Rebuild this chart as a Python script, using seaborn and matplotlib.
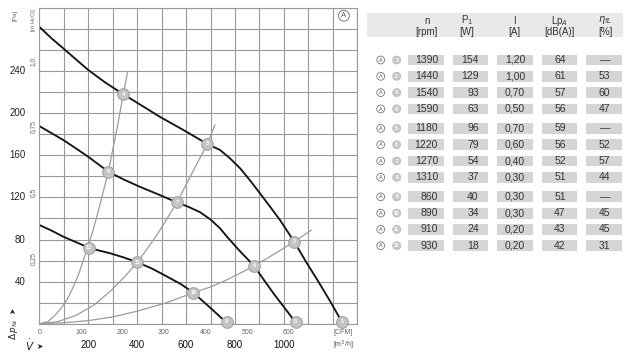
import numpy as np
import pandas as pd
import matplotlib
matplotlib.use("Agg")
import matplotlib.pyplot as plt
import seaborn as sns
from matplotlib.patches import Rectangle, Circle

# ---------------- data ----------------
# fan characteristic curves: volume flow [m3/h] vs static pressure [Pa]
curve1_q = [0, 50, 98, 150, 200, 270, 343, 420, 493, 589, 687, 739, 780, 821, 862, 902,
            944, 984, 1042, 1090, 1141, 1190, 1239]
curve1_pa = [282, 271, 261.5, 251, 241, 229, 218, 207, 196.5, 184, 170.7, 165, 157, 147.6,
             136, 123.9, 111, 98.5, 78, 59, 40, 21, 1]
curve2_q = [0, 50, 98, 150, 200, 282, 345, 412, 490, 562, 610, 657, 700, 739, 766, 820,
            878, 917, 957, 1003, 1049]
curve2_pa = [187.7, 181, 174.5, 166.5, 158.6, 144.4, 137, 130, 122.5, 115.3, 111, 106,
             99, 90.6, 83, 69, 55, 42, 29, 15, 1]
curve3_q = [0, 50, 98, 150, 203, 245, 289, 345, 401, 460, 521, 580, 630, 700, 766]
curve3_pa = [93.8, 88.5, 82.7, 77.5, 72.2, 69.5, 67, 63, 58.4, 52.5, 45, 37.5, 29.5,
             15, 1]

# system (resistance) curves, grey
sys_a_q = [0, 35, 68, 100, 123, 150, 164, 198, 220, 240, 260, 282, 300, 320, 343, 361]
sys_a_pa = [0, 2, 9, 18, 27, 41, 49, 73, 89, 106, 124, 144, 165, 188, 218, 239]
sys_b_q = [0, 75, 150, 225, 300, 350, 401, 440, 480, 520, 562, 600, 640, 687, 718]
sys_b_pa = [0, 2, 8, 18, 33, 45, 58.4, 71, 84, 99, 115.3, 132, 150, 170.7, 189]
sys_c_q = [0, 100, 200, 300, 400, 520, 630, 700, 760, 820, 878, 930, 980, 1042, 1113]
sys_c_pa = [0, 1, 3, 6.5, 12, 20, 29.5, 35, 41, 48, 55, 62, 69, 78, 89]

# operating points 1..12
op_num = list(range(1, 13))
op_q = [1239, 1042, 687, 343, 1049, 878, 562, 282, 766, 630, 401, 203]
op_pa = [2, 78, 170.7, 218, 2, 55, 115.3, 144.4, 2, 29.5, 58.4, 72.2]

# axis tick labels
pa_labels = [40, 80, 120, 160, 200, 240]
inh2o_labels = ["0,25", "0,5", "0,75", "1,0"]
inh2o_values = [0.25, 0.5, 0.75, 1.0]
m3h_labels = [200, 400, 600, 800, 1000]
cfm_labels = [0, 100, 200, 300, 400, 500, 600]

# table
tab_rpm = [1390, 1440, 1540, 1590, 1180, 1220, 1270, 1310, 860, 890, 910, 930]
tab_p1 = [154, 129, 93, 63, 96, 79, 54, 37, 40, 34, 24, 18]
tab_i = ["1,20", "1,00", "0,70", "0,50", "0,70", "0,60", "0,40", "0,30",
         "0,30", "0,30", "0,20", "0,20"]
tab_lpa = [64, 61, 57, 56, 59, 56, 52, 51, 51, 47, 43, 42]
tab_eta = [None, 53, 60, 47, None, 52, 57, 44, None, 45, 45, 31]

# ---------------- figure ----------------
sns.set_theme(style="white")
plt.rcParams["font.family"] = ["Liberation Sans Narrow", "Liberation Sans", "DejaVu Sans"]

W, H = 630, 358
fig = plt.figure(figsize=(W / 100, H / 100), dpi=100)
fig.patch.set_facecolor("white")

px_left, px_right, px_top, px_bot = 39.3, 357.3, 7.8, 323.8
ax = fig.add_axes([px_left / W, 1 - px_bot / H,
                   (px_right - px_left) / W, (px_bot - px_top) / H])
ax.set_facecolor("white")

grid_c = "#999999"
ax.set_xlim(0, 1300)
ax.set_ylim(0, 300)
ax.set_xticks(np.arange(0, 1301, 100))
ax.set_yticks(np.arange(0, 301, 20))
ax.grid(True, color=grid_c, lw=0.8)
ax.set_axisbelow(True)
ax.tick_params(length=0, labelbottom=False, labelleft=False)
for s in ax.spines.values():
    s.set_color(grid_c)
    s.set_linewidth(0.8)

# system curves
sys_df = pd.concat([
    pd.DataFrame({"q": sys_a_q, "pa": sys_a_pa, "c": "a"}),
    pd.DataFrame({"q": sys_b_q, "pa": sys_b_pa, "c": "b"}),
    pd.DataFrame({"q": sys_c_q, "pa": sys_c_pa, "c": "c"}),
])
sns.lineplot(data=sys_df, x="q", y="pa", units="c", estimator=None, sort=False,
             color="#9c9c9c", lw=0.9, ax=ax, legend=False)

# fan curves
fan_df = pd.concat([
    pd.DataFrame({"q": curve1_q, "pa": curve1_pa, "c": "1"}),
    pd.DataFrame({"q": curve2_q, "pa": curve2_pa, "c": "2"}),
    pd.DataFrame({"q": curve3_q, "pa": curve3_pa, "c": "3"}),
])
sns.lineplot(data=fan_df, x="q", y="pa", units="c", estimator=None, sort=False,
             color="#151515", lw=1.35, ax=ax, legend=False)

# operating points
sns.scatterplot(x=op_q, y=op_pa, s=70, color="#c4c4c4", edgecolor="#a3a3a3",
                linewidth=0.8, ax=ax, zorder=5, clip_on=False, legend=False)
for n, q, p in zip(op_num, op_q, op_pa):
    ax.text(q, p, str(n), ha="center", va="center", fontsize=4, color="white",
            fontweight="bold", zorder=6, clip_on=False)
ax.set_xlabel("")
ax.set_ylabel("")

# circled A inside plot
ax.text(0.958, 0.975, "A", transform=ax.transAxes, ha="center", va="center",
        fontsize=5.5, color="#555555",
        bbox=dict(boxstyle="circle,pad=0.25", fc="white", ec="#777777", lw=0.7))

# ---------------- axis labels ----------------
ytr = ax.get_yaxis_transform()
xtr = ax.get_xaxis_transform()
axw = px_right - px_left
axh = px_bot - px_top
for v in pa_labels:
    ax.text(-(px_left - 25.5) / axw, v, str(v), transform=ytr, ha="right",
            va="center", fontsize=7, color="#222222", clip_on=False)
for lab, v in zip(inh2o_labels, inh2o_values):
    ax.text(-(px_left - 33) / axw, v * 249.09, lab, transform=ytr, ha="center",
            va="center", fontsize=4.8, color="#666666", rotation=90, clip_on=False)
ax.text(-(px_left - 33) / axw, 288, "[in H$_2$O]", transform=ytr, ha="center",
        va="center", fontsize=4.5, color="#666666", rotation=90, clip_on=False)
ax.text(-(px_left - 15) / axw, 293, "[Pa]", transform=ytr, ha="center",
        va="center", fontsize=4.5, color="#666666", rotation=90, clip_on=False)

cfm_y = -(332 - px_bot) / axh
for v in cfm_labels:
    ax.text(v * 1.699, cfm_y, str(v), transform=xtr, ha="center", va="center",
            fontsize=5, color="#666666", clip_on=False)
ax.text(1241, cfm_y, "[CFM]", transform=xtr, ha="center", va="center",
        fontsize=5, color="#666666", clip_on=False)

m3_y = -(345 - px_bot) / axh
for v in m3h_labels:
    ax.text(v, m3_y, str(v), transform=xtr, ha="center", va="center",
            fontsize=7, color="#111111", clip_on=False)
ax.text(1241, m3_y, "[m$^3$/h]", transform=xtr, ha="center", va="center",
        fontsize=5, color="#555555", clip_on=False)

# overlay (pixel coordinates) for outer decorations and table
ov = fig.add_axes([0, 0, 1, 1])
ov.set_xlim(0, W)
ov.set_ylim(H, 0)
ov.axis("off")
ov.patch.set_alpha(0)

ov.text(29.5, 345.5, r"$\dot{V}$", ha="center", va="center", fontsize=7.5, color="#222222")
ov.text(39, 346, "➤", ha="center", va="center", fontsize=5.5, color="#222222",
        family="DejaVu Sans")
ov.text(13, 329, r"$\Delta\,p_{fa}$", ha="center", va="center", fontsize=6.5,
        color="#222222", rotation=90)
ov.text(13, 311, "➤", ha="center", va="center", fontsize=5.5, color="#222222",
        rotation=90, family="DejaVu Sans")

# ---------------- table ----------------
ov.add_patch(Rectangle((367, 13), 256, 24, fc="#e9e9e9", ec="none"))
hdr_x = [426.7, 466.7, 514.3, 559.3, 605]
hdr1 = ["n", "P$_1$", "I", "Lp$_A$", r"$\eta_{fL}$"]
hdr2 = ["[rpm]", "[W]", "[A]", "[dB(A)]", "[%]"]
for x, a, b in zip(hdr_x, hdr1, hdr2):
    ov.text(x, 20.5, a, ha="center", va="center", fontsize=7, color="#333333")
    ov.text(x, 32, b, ha="center", va="center", fontsize=7, color="#333333")

boxes = [(407.7, 444.3), (452.7, 488.3), (496.7, 532.7), (541.7, 577.3), (586, 622.3)]
row_y = []
y = 60.0
for k in range(12):
    if k in (4, 8):
        y += 3.2
    row_y.append(y)
    y += 16.3

for k, yy in enumerate(row_y):
    for (x0, x1) in boxes:
        ov.add_patch(Rectangle((x0, yy - 5.4), x1 - x0, 10.8, fc="#d5d5d5", ec="none"))
    ov.text(438, yy, str(tab_rpm[k]), ha="right", va="center", fontsize=7.5, color="#333333")
    ov.text(478.7, yy, str(tab_p1[k]), ha="right", va="center", fontsize=7.5, color="#333333")
    ov.text(515, yy, tab_i[k], ha="center", va="center", fontsize=7.5, color="#333333")
    ov.text(560, yy, str(tab_lpa[k]), ha="center", va="center", fontsize=7.5, color="#333333")
    if tab_eta[k] is None:
        ov.text(605, yy, "—", ha="center", va="center", fontsize=7.5, color="#333333")
    else:
        ov.text(610, yy, str(tab_eta[k]), ha="right", va="center", fontsize=7.5, color="#333333")
    # row icons
    ov.add_patch(Circle((380.7, yy), 3.9, fc="white", ec="#777777", lw=0.6))
    ov.text(380.7, yy + 0.2, "A", ha="center", va="center", fontsize=4, color="#555555")
    ov.add_patch(Circle((396.7, yy), 4.0, fc="#c8c8c8", ec="#b5b5b5", lw=0.5))
    ov.text(396.7, yy + 0.2, str(op_num[k]), ha="center", va="center", fontsize=3.6,
            color="white", fontweight="bold")

fig.savefig("out.png", dpi=100, facecolor="white")
